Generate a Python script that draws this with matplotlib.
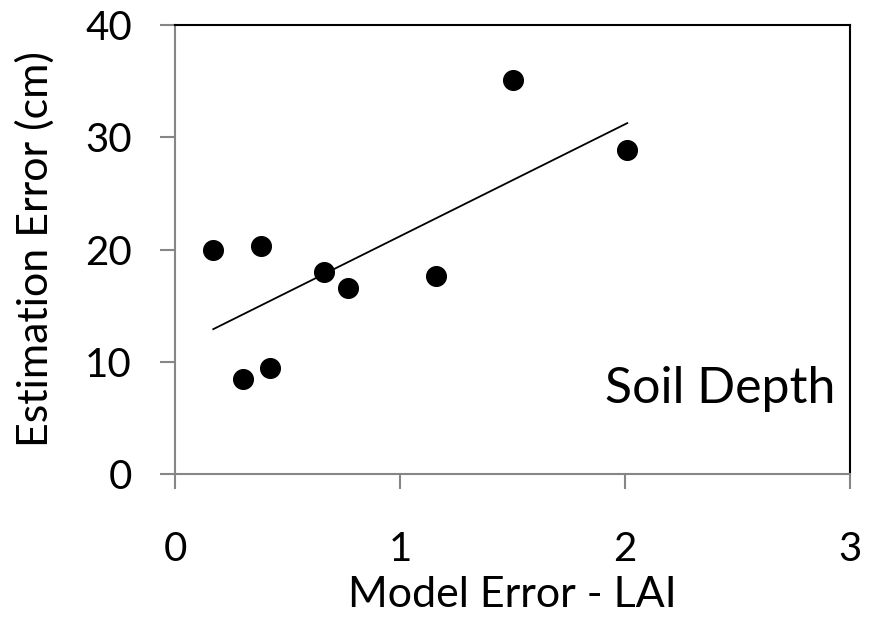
import numpy as np
import matplotlib
matplotlib.use("Agg")
import matplotlib.pyplot as plt

model_error = [0.17, 0.30, 0.38, 0.42, 0.66, 0.77, 1.16, 1.50, 2.01]
est_error = [20.0, 8.5, 20.3, 9.4, 18.0, 16.6, 17.6, 35.1, 28.9]

plt.rcParams['font.family'] = ['Lato', 'DejaVu Sans']

fig = plt.figure(figsize=(8.72, 6.18), dpi=100)
ax = fig.add_axes([0.2007, 0.233, 0.7741, 0.7265])

ax.scatter(model_error, est_error, s=200, color='black', zorder=3)

# linear trendline
k, b = np.polyfit(model_error, est_error, 1)
xs = np.array([min(model_error), max(model_error)])
ax.plot(xs, k * xs + b, color='black', lw=1.3)

ax.set_xlim(0, 3)
ax.set_ylim(0, 40)
ax.set_xticks([0, 1, 2, 3])
ax.set_yticks([0, 10, 20, 30, 40])

gray = '#868686'
ax.spines['left'].set_color(gray)
ax.spines['bottom'].set_color(gray)
ax.spines['top'].set_color('black')
ax.spines['right'].set_color('black')
for s in ax.spines.values():
    s.set_linewidth(1.5)
ax.tick_params(axis='both', direction='out', length=11, width=1.5, color=gray,
               labelsize=29)
ax.tick_params(axis='y', pad=20)
ax.tick_params(axis='x', pad=30)

ax.set_xlabel('Model Error - LAI', fontsize=31, labelpad=6)
ax.set_ylabel('Estimation Error (cm)', fontsize=31, labelpad=22)
ax.text(0.978, 0.19, 'Soil Depth', transform=ax.transAxes, ha='right',
        va='center', fontsize=36)

fig.savefig('out.png', dpi=100)
